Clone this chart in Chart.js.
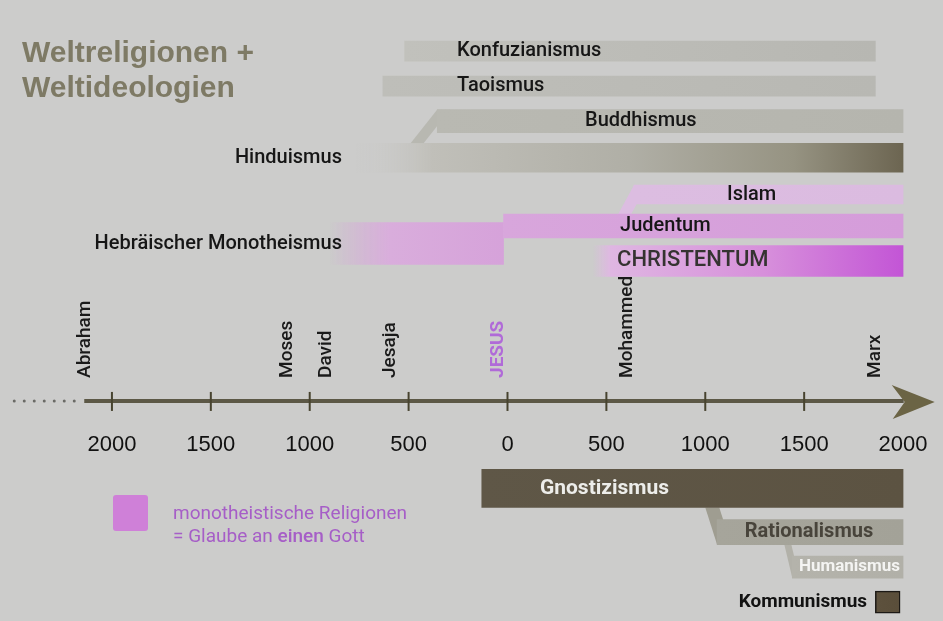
<!DOCTYPE html>
<html>
<head>
<meta charset="utf-8">
<title>Weltreligionen + Weltideologien</title>
<script src="https://cdn.jsdelivr.net/npm/chart.js@4.4.1/dist/chart.umd.min.js"></script>
<style>
  html, body { margin: 0; padding: 0; background: #cccccb; }
  #wrap { position: relative; width: 943px; height: 621px; }
</style>
</head>
<body>
<div id="wrap"><canvas id="myChart"></canvas></div>
<script>
// Zeitachse: Jahre, v. Chr. negativ
var tickYears = [-2000, -1500, -1000, -500, 0, 500, 1000, 1500, 2000];

// Balken: Name, Beginn, Ende (Jahre)
var names  = ['Konfuzianismus', 'Taoismus', 'Buddhismus', 'Hinduismus', 'Islam', 'Judentum',
              'Hebräischer Monotheismus', 'CHRISTENTUM', 'Gnostizismus', 'Rationalismus',
              'Humanismus', 'Kommunismus'];
var starts = [-520, -630, -355, -770, 640, -20, -900, 430, -130, 1060, 1440, 1860];
var ends   = [1860, 1860, 2000, 2000, 2000, 2000, -20, 2000, 2000, 2000, 2000, 1985];

// Abzweigungen: von welchem Balken, in welchem Jahr
var branchParent = ['', '', 'Hinduismus', '', 'Judentum', '', '', '', '', 'Gnostizismus', 'Rationalismus', ''];
var branchYears  = [null, null, -490, null, 560, null, null, null, null, 1000, 1400, null];

// Personen auf der Zeitachse
var events     = ['Abraham', 'Moses', 'David', 'Jesaja', 'JESUS', 'Mohammed', 'Marx'];
var eventYears = [-2135, -1115, -915, -595, -45, 605, 1860];

var titleLines  = ['Weltreligionen +', 'Weltideologien'];
var legendLines = ['monotheistische Religionen', '= Glaube an einen Gott'];

// ---- Darstellung ----
var lanes = [0, 1, 2, 3.05, 4.1, 5, 5.5, 6, 12.5, 13.75, 14.75, 15.75];
var axisLane = 10;
var thick = [20, 20, 23, 29, 19, 24, 42, 31, 38, 25, 22, 22];

var fills = [
  [[0, '#c1c1bc'], [1, '#b7b7b2']],
  [[0, '#bebeb9'], [1, '#b8b8b3']],
  [[0, '#b9b9b2'], [1, '#b5b5ae']],
  [[0, 'rgba(204,204,203,0)'], [0.14, '#c0bfb9'], [0.5, '#b0afa6'], [0.8, '#969382'], [1, '#6c6551']],
  [[0, '#dcbde1'], [1, '#dbbbe0']],
  [[0, '#d8a6dc'], [1, '#d59cda']],
  [[0, 'rgba(214,165,218,0)'], [0.35, '#d9addc'], [1, '#d6a2da']],
  [[0, 'rgba(224,186,228,0)'], [0.06, '#dfb6e2'], [0.55, '#d790db'], [1, '#c355d6']],
  [[0, '#5f5747'], [1, '#5c5342']],
  [[0, '#a6a59b'], [1, '#a3a298']],
  [[0, '#b4b3ab'], [1, '#b1b0a8']],
  [[0, '#5d513d'], [1, '#5a4e3a']]
];
var outline      = ['rgba(0,0,0,0)', 'rgba(0,0,0,0)', 'rgba(0,0,0,0)', 'rgba(0,0,0,0)', 'rgba(0,0,0,0)', 'rgba(0,0,0,0)',
                    'rgba(0,0,0,0)', 'rgba(0,0,0,0)', 'rgba(0,0,0,0)', 'rgba(0,0,0,0)', 'rgba(0,0,0,0)', '#1c1915'];
var outlineWidth = [0, 0, 0, 0, 0, 0, 0, 0, 0, 0, 0, 1.5];
var linkColor = ['', '', '#b8b8b1', '', '#dcbde1', '', '', '', '', '#9f9d91', '#b2b1a9', ''];
var linkWidth = [0, 0, 13, 0, 13, 0, 0, 0, 0, 14, 7, 0];

var labelAt    = [-255, -255, 392, -837, 1110, 569, -837, 554, 164, 1849, 1985, 1818];
var labelAlign = ['left', 'left', 'left', 'right', 'left', 'left', 'right', 'left', 'left', 'right', 'right', 'right'];
var fontMain = '500 20px Roboto, "Liberation Sans", sans-serif';
var labelFont = [fontMain, fontMain, fontMain, fontMain, fontMain, fontMain, fontMain,
                 '500 22px Roboto, "Liberation Sans", sans-serif',
                 'bold 21px Roboto, "Liberation Sans", sans-serif',
                 'bold 20px Roboto, "Liberation Sans", sans-serif',
                 'bold 17px Roboto, "Liberation Sans", sans-serif',
                 'bold 19px Roboto, "Liberation Sans", sans-serif'];
var labelColor = ['#161616', '#161616', '#161616', '#161616', '#161616', '#161616', '#161616',
                  '#353331', '#ededea', '#48443b', '#f4f4f2', '#121212'];

var axisFrom = -2140;
var axisColor = '#5c5846';
var pink = '#a65ec7';

function barFill(c, i) {
  var stops = fills[i];
  var chart = c.chart;
  if (!chart.chartArea) {
    return stops[stops.length - 1][1];
  }
  var x = chart.scales.x;
  var g = chart.ctx.createLinearGradient(x.getPixelForValue(starts[i]), 0, x.getPixelForValue(ends[i]), 0);
  stops.forEach(function(s) { g.addColorStop(s[0], s[1]); });
  return g;
}

// Achsen sollen keinen Platz im Layout belegen
function noPadding(axis) {
  axis.paddingLeft = 0;
  axis.paddingRight = 0;
  axis.paddingTop = 0;
  axis.paddingBottom = 0;
}

var timeline = {
  id: 'timeline',
  beforeDatasetsDraw: function(chart) {
    var ctx = chart.ctx;
    var x = chart.scales.x;
    var y = chart.scales.y;

    // Abzweigungen (schraege Verbindungen)
    names.forEach(function(name, i) {
      var p = names.indexOf(branchParent[i]);
      if (p < 0) return;
      var c = chart.getDatasetMeta(i).data[0];
      var q = chart.getDatasetMeta(p).data[0];
      var cx = Math.min(c.x, c.base);
      var bx = x.getPixelForValue(branchYears[i]);
      var w = linkWidth[i];
      var yc, yp;
      if (c.y < q.y) {
        yc = c.y - c.height / 2;
        yp = q.y - q.height / 2;
      } else {
        yc = c.y + c.height / 2;
        yp = q.y + q.height / 2;
      }
      ctx.save();
      ctx.fillStyle = linkColor[i];
      ctx.beginPath();
      ctx.moveTo(cx, yc);
      ctx.lineTo(cx + w, yc);
      ctx.lineTo(bx + w, yp);
      ctx.lineTo(bx, yp);
      ctx.closePath();
      ctx.fill();
      ctx.restore();
    });

    // Zeitachse mit Pfeil
    var ay = y.getPixelForValue(axisLane);
    var x0 = x.getPixelForValue(axisFrom);
    var tip = x.getPixelForValue(2160);
    var back = tip - 43;
    ctx.save();
    ctx.fillStyle = '#6a6a66';
    for (var d = 1; d <= 7; d++) {
      ctx.beginPath();
      ctx.arc(x0 - d * 10, ay, 1.5, 0, Math.PI * 2);
      ctx.fill();
    }
    ctx.strokeStyle = axisColor;
    ctx.lineWidth = 4;
    ctx.beginPath();
    ctx.moveTo(x0, ay);
    ctx.lineTo(back + 12, ay);
    ctx.stroke();
    ctx.lineWidth = 2;
    ctx.strokeStyle = '#47432f';
    tickYears.forEach(function(v) {
      var px = x.getPixelForValue(v);
      if (px > back) return;
      ctx.beginPath();
      ctx.moveTo(px, ay - 9);
      ctx.lineTo(px, ay + 10);
      ctx.stroke();
    });
    ctx.fillStyle = '#6b6445';
    ctx.beginPath();
    ctx.moveTo(tip, ay + 1);
    ctx.lineTo(back, ay - 16);
    ctx.lineTo(back + 13, ay + 1);
    ctx.lineTo(back + 1, ay + 18);
    ctx.closePath();
    ctx.fill();
    ctx.restore();
  },
  afterDatasetsDraw: function(chart) {
    var ctx = chart.ctx;
    var x = chart.scales.x;
    var y = chart.scales.y;

    // Beschriftung der Balken
    ctx.save();
    ctx.textBaseline = 'middle';
    names.forEach(function(name, i) {
      var el = chart.getDatasetMeta(i).data[0];
      ctx.font = labelFont[i];
      ctx.fillStyle = labelColor[i];
      ctx.textAlign = labelAlign[i];
      ctx.fillText(name, x.getPixelForValue(labelAt[i]), el.y);
    });

    // Personen, senkrecht
    var ay = y.getPixelForValue(axisLane);
    events.forEach(function(name, i) {
      ctx.save();
      ctx.translate(x.getPixelForValue(eventYears[i]), ay - 23);
      ctx.rotate(-Math.PI / 2);
      ctx.textAlign = 'left';
      ctx.textBaseline = 'middle';
      if (name === 'JESUS') {
        ctx.font = 'bold 19px Roboto, "Liberation Sans", sans-serif';
        ctx.fillStyle = '#b06ad8';
      } else {
        ctx.font = '500 19px Roboto, "Liberation Sans", sans-serif';
        ctx.fillStyle = '#1a1a1a';
      }
      ctx.fillText(name, 0, 0);
      ctx.restore();
    });
    ctx.restore();
  },
  afterDraw: function(chart) {
    var ctx = chart.ctx;
    ctx.save();
    // Titel
    ctx.fillStyle = '#7e7a65';
    ctx.font = 'bold 30px "Liberation Sans", Arial, sans-serif';
    ctx.textBaseline = 'alphabetic';
    ctx.textAlign = 'left';
    ctx.fillText(titleLines[0], 22, 62);
    ctx.fillText(titleLines[1], 22, 97);

    // Legende
    ctx.fillStyle = '#cf80d8';
    ctx.beginPath();
    if (ctx.roundRect) {
      ctx.roundRect(113, 495, 35, 36, 3);
    } else {
      ctx.rect(113, 495, 35, 36);
    }
    ctx.fill();
    ctx.fillStyle = pink;
    ctx.textBaseline = 'middle';
    ctx.font = '19px Roboto, "Liberation Sans", sans-serif';
    ctx.fillText(legendLines[0], 173, 514);
    var parts = legendLines[1].split('einen');
    var lx = 173;
    ctx.fillText(parts[0], lx, 537);
    lx += ctx.measureText(parts[0]).width;
    ctx.font = '500 19px Roboto, "Liberation Sans", sans-serif';
    ctx.fillText('einen', lx, 537);
    lx += ctx.measureText('einen').width;
    ctx.font = '19px Roboto, "Liberation Sans", sans-serif';
    ctx.fillText(parts[1], lx, 537);
    ctx.restore();
  }
};

var datasets = names.map(function(name, i) {
  return {
    label: name,
    data: [{ x: [starts[i], ends[i]], y: lanes[i] }],
    barThickness: thick[i],
    grouped: false,
    backgroundColor: function(c) { return barFill(c, i); },
    borderColor: outline[i],
    borderWidth: outlineWidth[i],
    borderSkipped: false
  };
});

var ctx = document.getElementById('myChart');
var myChart = new Chart(ctx, {
  type: 'bar',
  data: { datasets: datasets },
  options: {
    indexAxis: 'y',
    responsive: true,
    maintainAspectRatio: false,
    animation: false,
    layout: { padding: 0, autoPadding: false },
    plugins: {
      legend: { display: false },
      tooltip: { enabled: false }
    },
    scales: {
      x: {
        type: 'linear',
        min: -2566,
        max: 2202,
        position: { y: axisLane },
        grid: { display: false, drawTicks: false },
        border: { display: false },
        afterBuildTicks: function(axis) {
          axis.ticks = tickYears.map(function(v) { return { value: v }; });
        },
        afterFit: function(axis) {
          axis.height = 0;
          noPadding(axis);
        },
        ticks: {
          autoSkip: false,
          maxRotation: 0,
          padding: 31,
          color: '#111111',
          font: { family: '"Liberation Sans", Arial, sans-serif', size: 22 },
          callback: function(v) { return Math.abs(v); }
        }
      },
      y: {
        type: 'linear',
        reverse: true,
        offset: false,
        min: -1.46,
        max: 16.29,
        display: false,
        ticks: { display: false },
        afterFit: noPadding
      }
    }
  },
  plugins: [timeline]
});
</script>
</body>
</html>
